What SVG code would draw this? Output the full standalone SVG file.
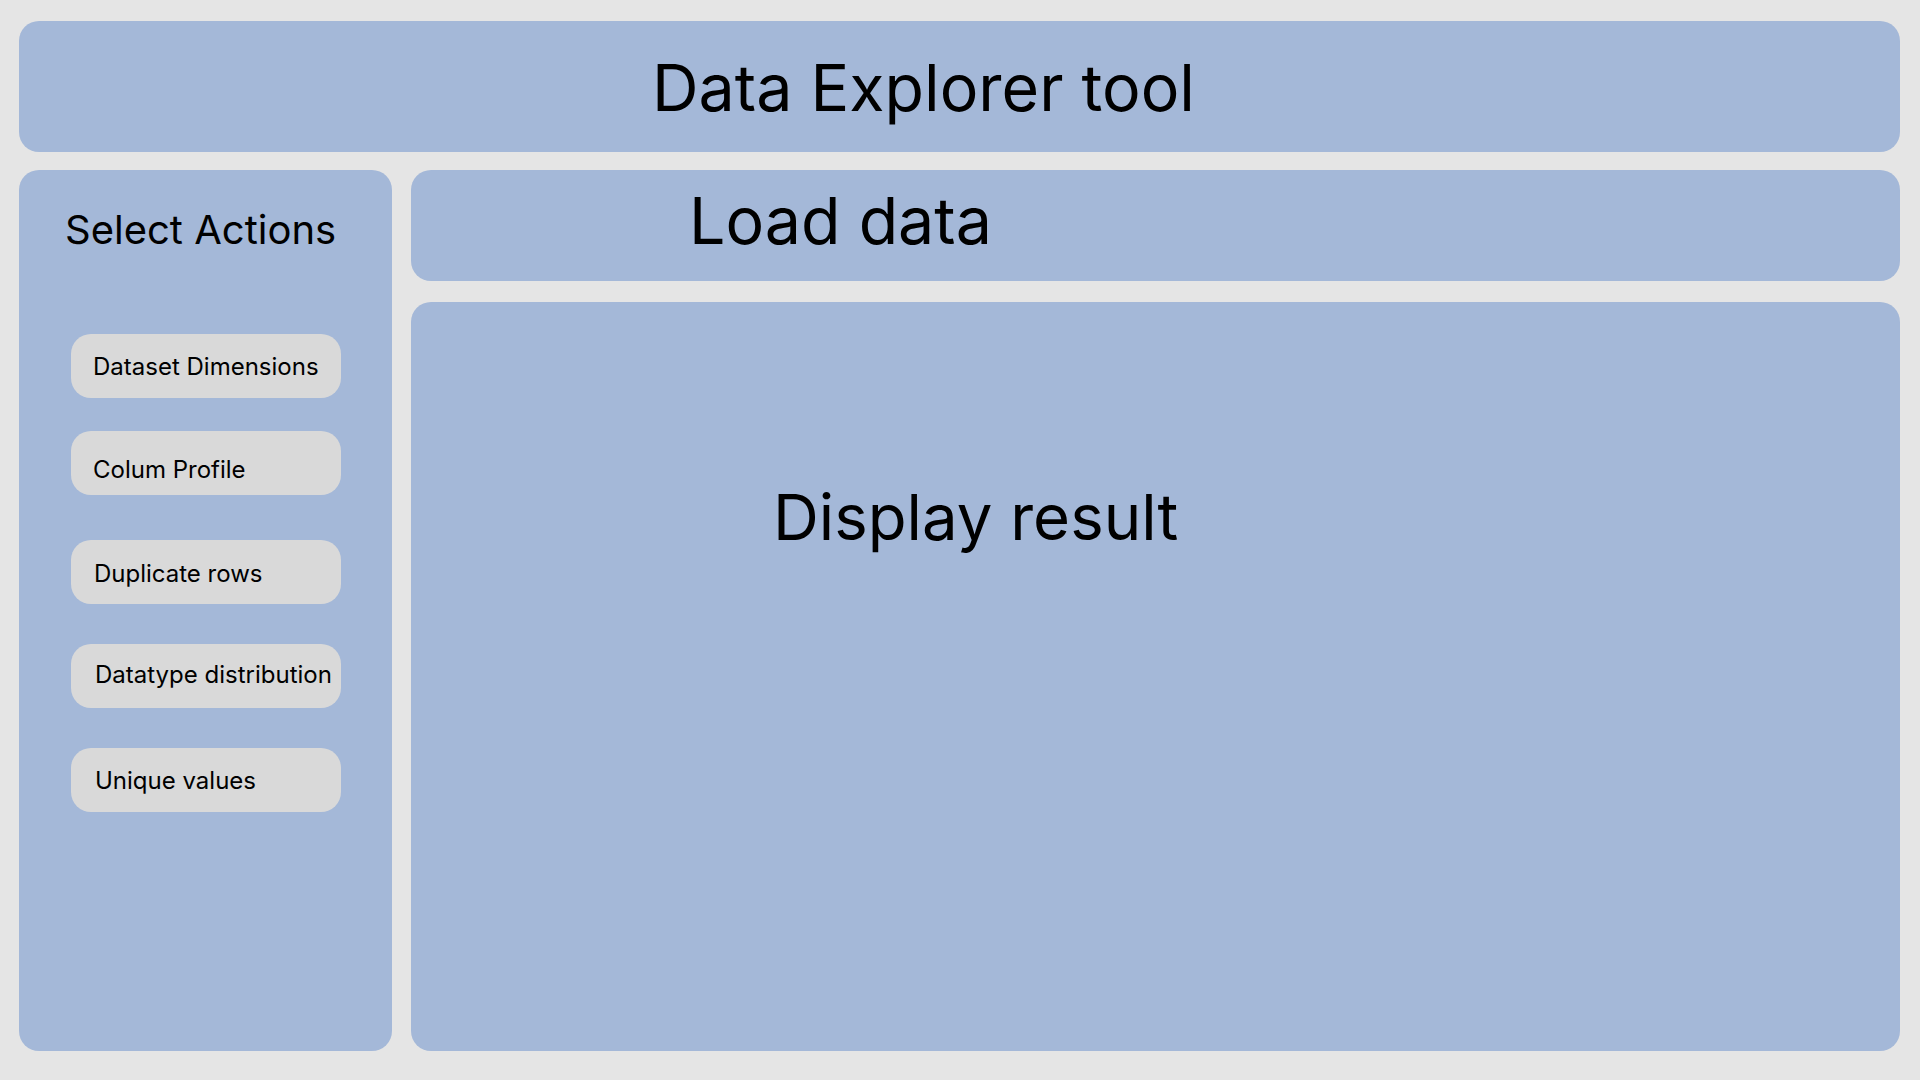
<svg xmlns="http://www.w3.org/2000/svg" width="1920" height="1080" viewBox="0 0 1920 1080">
<style>
.panel{fill:#a4b8d8}
.btn{fill:#d9d9d9}
text{font-family:Inter,"Noto Sans","Liberation Sans",sans-serif;fill:#000}
.big{font-size:64.5px}
.mid{font-size:40px}
.small{font-size:24px}
</style>
<rect x="0" y="0" width="1920" height="1080" fill="#e5e5e5"/>
<g id="header">
<rect class="panel" x="19" y="21" width="1881" height="131" rx="20"/>
<text class="big" x="652" y="111">Data Explorer tool</text>
</g>
<g id="sidebar">
<rect class="panel" x="19" y="170" width="373" height="881" rx="20"/>
<text class="mid" x="65" y="244">Select Actions</text>
</g>
<g id="btn-dataset-dimensions">
<rect class="btn" x="71" y="334" width="270" height="64" rx="20"/>
<text class="small" x="93" y="375">Dataset Dimensions</text>
</g>
<g id="btn-colum-profile">
<rect class="btn" x="71" y="431" width="270" height="64" rx="20"/>
<text class="small" x="93" y="477.5">Colum Profile</text>
</g>
<g id="btn-duplicate-rows">
<rect class="btn" x="71" y="540" width="270" height="64" rx="20"/>
<text class="small" x="94" y="582">Duplicate rows</text>
</g>
<g id="btn-datatype-distribution">
<rect class="btn" x="71" y="644" width="270" height="64" rx="20"/>
<text class="small" x="95" y="683">Datatype distribution</text>
</g>
<g id="btn-unique-values">
<rect class="btn" x="71" y="748" width="270" height="64" rx="20"/>
<text class="small" x="95" y="789">Unique values</text>
</g>
<g id="load-data">
<rect class="panel" x="411" y="170" width="1489" height="111" rx="20"/>
<text class="big" x="689" y="244">Load data</text>
</g>
<g id="display-result">
<rect class="panel" x="411" y="302" width="1489" height="749" rx="20"/>
<text class="big" x="773" y="540" style="font-size:63.5px">Display result</text>
</g>
<g id="connectors"></g>
</svg>
